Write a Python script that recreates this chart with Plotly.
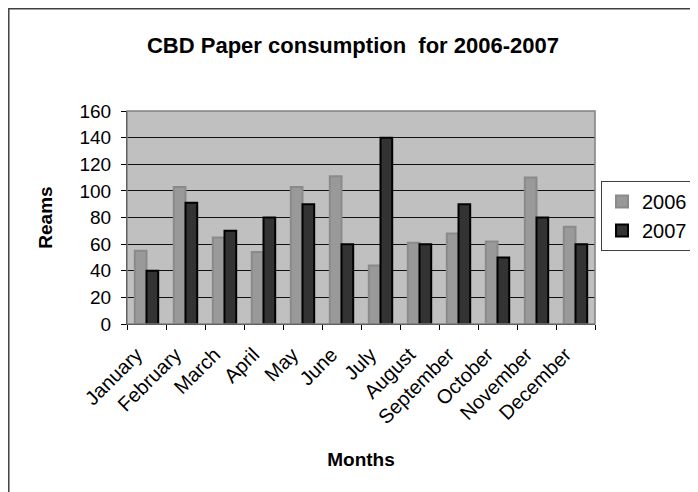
import plotly.graph_objects as go

months = ["January", "February", "March", "April", "May", "June", "July",
          "August", "September", "October", "November", "December"]
y2006 = [55, 103, 65, 54, 103, 111, 44, 61, 68, 62, 110, 73]
y2007 = [40, 91, 70, 80, 90, 60, 140, 60, 90, 50, 80, 60]
yticks = [0, 20, 40, 60, 80, 100, 120, 140, 160]

# page has an 8px body margin, so the figure is 690x484 offset by (8, 8)
OFF = 8
W, H = 698 - OFF, 492 - OFF
L, R, T, B = 127 - OFF, 595 - OFF, 111 - OFF, 324 - OFF
pw, ph = R - L, B - T

def px(x):
    return (x - L) / pw

def py(y):
    return (B - y) / ph

fig = go.Figure()
fig.add_trace(go.Bar(name="2006", x=months, y=y2006,
                     marker=dict(color="#999999", line=dict(color="#8a8a8a", width=2))))
fig.add_trace(go.Bar(name="2007", x=months, y=y2007,
                     marker=dict(color="#333333", line=dict(color="#000000", width=2))))

font = "Liberation Sans, Arial, sans-serif"
fig.update_layout(
    width=W, height=H,
    margin=dict(l=L, r=W - R, t=T, b=H - B, pad=0),
    paper_bgcolor="white", plot_bgcolor="#c0c0c0",
    barmode="group", bargap=0.4, bargroupgap=0.0,
    font=dict(family=font, size=19, color="black"),
    title=dict(text="<b>CBD Paper consumption  for 2006-2007</b>",
               x=0.5, xanchor="center", y=1 - (45 - OFF) / H, yanchor="middle",
               font=dict(size=22)),
    showlegend=True,
    legend=dict(xref="container", yref="container",
                x=(601 - OFF) / W, y=1 - (216 - OFF) / H,
                xanchor="left", yanchor="middle",
                bordercolor="#404040", borderwidth=1, bgcolor="white",
                font=dict(size=20), tracegroupgap=0, itemwidth=30),
    xaxis=dict(tickangle=-45, ticks="outside", tickson="boundaries", ticklen=5,
               tickcolor="black", showline=True, linecolor="black", linewidth=1,
               showgrid=False, tickfont=dict(size=20), automargin=False,
               ticklabelstandoff=10, ticklabelshift=-10,
               title=dict(text="<b>Months</b>", font=dict(size=19), standoff=25)),
    yaxis=dict(range=[0, 160], tickvals=yticks, ticks="outside", ticklen=5,
               tickcolor="black", showline=True, linecolor="black", linewidth=1,
               showgrid=True, gridcolor="#111111", gridwidth=1, zeroline=False,
               tickfont=dict(size=19), automargin=False, ticklabelstandoff=6,
               title=dict(text="<b>Reams</b>", font=dict(size=19), standoff=21)),
    shapes=[
        dict(type="rect", xref="paper", yref="paper", x0=0, x1=1, y0=0, y1=1,
             line=dict(color="#808080", width=1.5), layer="above"),
        dict(type="rect", xref="paper", yref="paper", x0=px(0.8), x1=px(720),
             y0=py(520), y1=py(0.8), line=dict(color="#404040", width=1.5)),
    ],
)

fig.write_html("out.html")
